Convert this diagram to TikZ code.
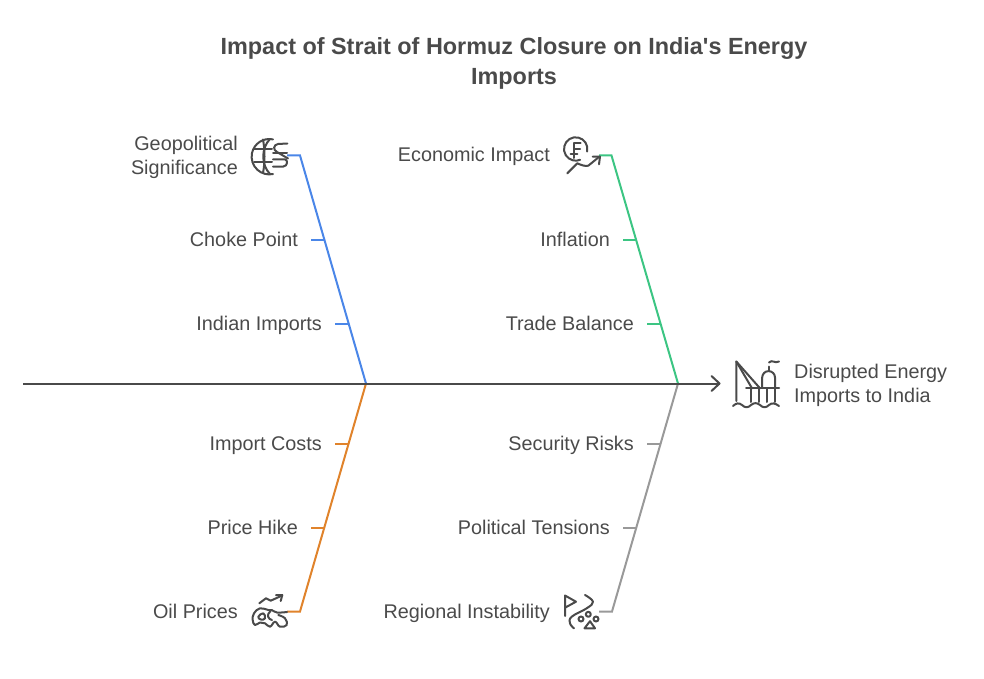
\documentclass[tikz,border=0pt]{standalone}
\usepackage{fontspec}
\setmainfont{Liberation Sans}
\definecolor{ink}{HTML}{4A4A4A}
\definecolor{cblue}{HTML}{4A86E8}
\definecolor{cgreen}{HTML}{3CC583}
\definecolor{corange}{HTML}{E0832B}
\definecolor{cgrey}{HTML}{999999}
\tikzset{
  lab/.style={text=ink,font=\fontsize{19.8}{24}\selectfont,align=right,anchor=base east,inner sep=0pt},
  labm/.style={text=ink,font=\fontsize{19.8}{24}\selectfont,align=right,anchor=east,inner sep=0pt},
  labl/.style={text=ink,font=\fontsize{19.8}{24}\selectfont,align=left,anchor=west,inner sep=0pt},
  ttl/.style={text=ink,font=\fontsize{23.4}{30}\selectfont\bfseries,align=center,inner sep=0pt},
  bone/.style={line width=2pt,line join=miter},
  icon/.style={draw=ink,line width=2pt,line cap=round,line join=round,fill=none}
}
\begin{document}
\begin{tikzpicture}[x=1pt,y=-1pt]
\useasboundingbox (0,0) rectangle (984,679);
\node[ttl] (title) at (514,63.5) {Impact of Strait of Hormuz Closure on India\textquotesingle s Energy\\Imports};
% spine
\coordinate (tail) at (23,383.5);
\coordinate (head) at (720,383.5);
\coordinate (jb) at (366,383.5);
\coordinate (jg) at (678,383.5);
% labels
\node[labm] (geo) at (238,157.5) {Geopolitical\\Significance};
\node[lab] (choke) at (298,246) {Choke Point};
\node[lab] (indian) at (322,330) {Indian Imports};
\node[lab] (econ) at (550,162) {Economic Impact};
\node[lab] (infl) at (610,246) {Inflation};
\node[lab] (trade) at (634,330) {Trade Balance};
\node[lab] (cost) at (322,450) {Import Costs};
\node[lab] (hike) at (298,534) {Price Hike};
\node[lab] (oil) at (238,618) {Oil Prices};
\node[lab] (sec) at (634,450) {Security Risks};
\node[lab] (pol) at (610,534) {Political Tensions};
\node[lab] (reg) at (550,618) {Regional Instability};
\node[labl] (dis) at (794,385.5) {Disrupted Energy\\Imports to India};
% bone ends
\coordinate (b0) at (287,155.5); \coordinate (b1) at (300,155.5);
\coordinate (b2a) at (311,239.5); \coordinate (b2b) at (324.5,239.5);
\coordinate (b3a) at (335,323.5); \coordinate (b3b) at (348.5,323.5);
\coordinate (g0) at (599,155.5); \coordinate (g1) at (611.5,155.5);
\coordinate (g2a) at (623,239.5); \coordinate (g2b) at (636.5,239.5);
\coordinate (g3a) at (647,323.5); \coordinate (g3b) at (660.5,323.5);
\coordinate (o0) at (287,611.5); \coordinate (o1) at (300,611.5);
\coordinate (o2a) at (311,527.5); \coordinate (o2b) at (324.5,527.5);
\coordinate (o3a) at (335,443.5); \coordinate (o3b) at (348.5,443.5);
\coordinate (k0) at (599,611.5); \coordinate (k1) at (612,611.5);
\coordinate (k2a) at (623,527.5); \coordinate (k2b) at (636.5,527.5);
\coordinate (k3a) at (647,443.5); \coordinate (k3b) at (660.5,443.5);
\draw[bone,cblue] (b0)--(b1)--(jb);
\draw[bone,cblue] (b2a)--(b2b);
\draw[bone,cblue] (b3a)--(b3b);
\draw[bone,cgreen] (g0)--(g1)--(jg);
\draw[bone,cgreen] (g2a)--(g2b);
\draw[bone,cgreen] (g3a)--(g3b);
\draw[bone,corange] (o0)--(o1)--(jb);
\draw[bone,corange] (o2a)--(o2b);
\draw[bone,corange] (o3a)--(o3b);
\draw[bone,cgrey] (k0)--(k1)--(jg);
\draw[bone,cgrey] (k2a)--(k2b);
\draw[bone,cgrey] (k3a)--(k3b);
\draw[line width=2pt,ink] (tail)--(head);
\draw[icon] (711.5,376)--(719.5,383.5)--(711.5,391);
% globe icon
\begin{scope}[icon]
\draw (273,139.4) arc[start angle=-78,end angle=-282,radius=17.7];
\draw (270,139) .. controls (261,148) and (261,165) .. (270,174);
\draw (263,139.5) .. controls (265,150) and (265,163) .. (263,173);
\draw (254,149) -- (272,149);
\draw (254,162.5) -- (272,162.5);
\draw (287.3,143.5) -- (278,144) .. controls (273,145) and (273,150) .. (277,152) -- (288,158.5);
\draw (273,159.3) -- (285,159.3) .. controls (288,160) and (288,166) .. (283,166.7) -- (273,166.7);
\draw (273,153) -- (287,153);
\end{scope}
% economic icon
\begin{scope}[icon]
\draw (587.1,151.6) arc[start angle=13,end angle=-292,radius=11.7];
\draw (580.7,143) -- (574,143) -- (574,158);
\draw (574,149) -- (580,149);
\draw (570.7,154.3) -- (577.3,154.3);
\draw (567.3,173.3) -- (577.3,163.3) .. controls (581,165) and (585,166.5) .. (588.3,165.7) -- (599.3,156.7);
\draw (592.7,156.7) -- (600,156.7) -- (599,164.3);
\end{scope}
% rig icon
\begin{scope}[icon]
\draw (736.3,401) -- (736.3,361.5) -- (760,388.3);
\draw (736.3,361.5) -- (752,388.3);
\draw (746,388.3) -- (779,388.3);
\draw (750.7,388.3) -- (750.7,402);
\draw (759,388.3) -- (759,402);
\draw (766.7,388.3) -- (766.7,402);
\draw (775,388.3) -- (775,402);
\draw (762.2,388) -- (762.2,377.5) arc[start angle=-180,end angle=0,radius=6.4] -- (775,388);
\draw (768.7,371) -- (768.7,366.5);
\draw (769,362.5) .. controls (772,359) and (775,364) .. (779,361.5);
\draw (733,406) .. controls (736,403) and (739,402.5) .. (742,405) .. controls (745,408) and (748,408) .. (751,405) .. controls (754,402.5) and (757,402.5) .. (760,405) .. controls (763,408) and (766,408) .. (769,405) .. controls (772,402.5) and (775,403) .. (779,406);
\end{scope}
% oil icon
\begin{scope}[icon]
\draw (259.3,603.3) -- (266,598.3) -- (270.7,600.7) -- (281.7,595.7);
\draw (276,595) -- (282.3,595) -- (280.7,601);
\draw plot[smooth,tension=0.7] coordinates {(287,612) (277,612.5) (271.7,610) (268.3,610) (260,608.3) (254,613.3) (252.7,620) (255,625) (260,622.5) (265,623.3) (270,626.7) (275,621.7) (280,626.7) (286.7,625) (285,618.3) (278.3,615)};
\draw plot[smooth cycle,tension=0.8] coordinates {(258.3,616.7) (263.3,613.3) (265,618.3) (261,619.5)};
\draw (270.5,611) .. controls (266,615) and (268,619) .. (272,620);
\end{scope}
% regional icon
\begin{scope}[icon]
\draw (565,616) -- (565,595.5) -- (576,601.7) -- (565,607.7);
\draw plot[smooth,tension=0.7] coordinates {(585,595) (593,601.7) (586.7,608.3) (571.7,616.7) (570,623.3) (574,628.3)};
\draw (588.3,614.3) circle[radius=2.5];
\draw (581,619) circle[radius=2.5];
\draw (596,619) circle[radius=2.5];
\draw (584.5,628.3) -- (590,621.2) -- (595,628.3) -- cycle;
\end{scope}
\end{tikzpicture}
\end{document}
